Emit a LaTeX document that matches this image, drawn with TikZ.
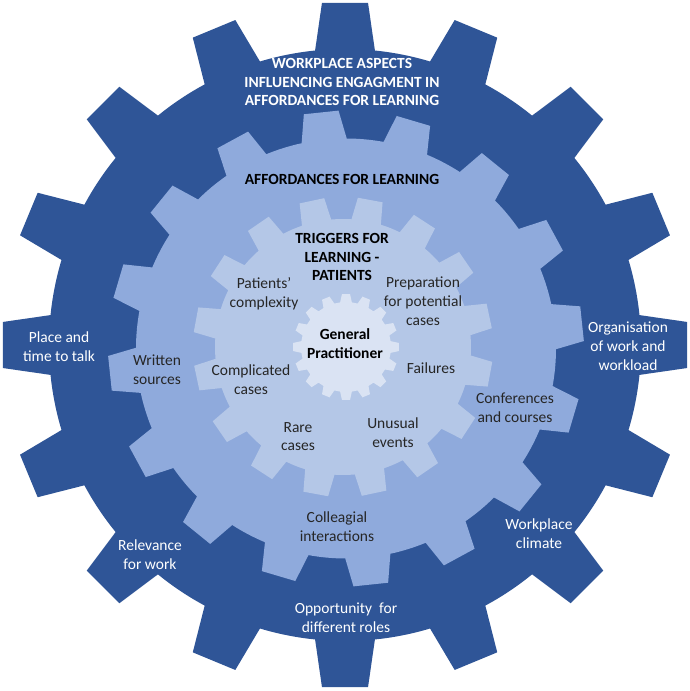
\documentclass[tikz,border=0pt]{standalone}
\usepackage{fontspec}
\setmainfont{Carlito}
\definecolor{gdark}{HTML}{2F5597}
\definecolor{gmid}{HTML}{8FAADC}
\definecolor{glight}{HTML}{B4C7E7}
\definecolor{gpale}{HTML}{DAE3F3}
\definecolor{txtdark}{HTML}{262626}
% #1 colour, #2 cx, #3 cy, #4 root r, #5 tip R, #6 phase, #7 tip half-angle, #8 base half-angle
\newcommand\drawgear[8]{%
  \fill[#1, shift={(#2,#3)}] (#6-#8:#4)
  \foreach \k [evaluate=\k as \t using #6+22.5*\k] in {0,...,15}{
    -- (\t-#8:#4) -- (\t-#7:#5) -- (\t+#7:#5) -- (\t+#8:#4)
    arc[start angle=\t+#8, end angle=\t+22.5-#8, radius=#4]
  } -- cycle;}
\tikzset{
  lbl/.style={align=center, inner sep=0pt, font=\fontsize{15.5}{18.8}\selectfont},
  wlbl/.style={lbl, text=white},
  dlbl/.style={lbl, text=txtdark},
  btitle/.style={lbl, font=\fontsize{15.5}{18.8}\selectfont\bfseries},
}
\begin{document}
\begin{tikzpicture}[x=1pt,y=1pt]
\useasboundingbox (0,0) rectangle (690,691);
\drawgear{gdark}{345}{346}{296}{343}{0}{3.85}{5.8}
\drawgear{gmid}{346}{342.5}{210}{238}{6}{4.2}{6.2}
\drawgear{glight}{343}{344}{128}{150}{12}{4.8}{6.7}
\drawgear{gpale}{346}{344}{45}{53}{0}{4.4}{7.5}

% outer gear labels
\node[btitle, text=white] (t1) at (342,609) {WORKPLACE ASPECTS\\INFLUENCING ENGAGMENT IN\\AFFORDANCES FOR LEARNING};
\node[wlbl] (o1) at (59,344.5) {Place and\\time to talk};
\node[wlbl] (o2) at (628,345) {Organisation\\of work and\\workload};
\node[wlbl] (o3) at (539,157.5) {Workplace\\climate};
\node[wlbl] (o4) at (150,136.5) {Relevance\\for work};
\node[wlbl] (o5) at (346,73) {Opportunity~ for\\different roles};

% second gear labels
\node[btitle, text=black] (t2) at (342,512) {AFFORDANCES FOR LEARNING};
\node[dlbl] (m1) at (157,321.5) {Written\\sources};
\node[dlbl] (m2) at (515,283.5) {Conferences\\and courses};
\node[dlbl] (m3) at (337,164) {Colleagial\\interactions};

% third gear labels
\node[btitle, text=black] (t3) at (342,434) {TRIGGERS FOR\\LEARNING -\\PATIENTS};
\node[dlbl] (l1) at (264,397) {Patients’\\complexity};
\node[dlbl] (l2) at (423,390) {Preparation\\for potential\\cases};
\node[dlbl] (l3) at (251,311.5) {Complicated\\cases};
\node[dlbl] (l4) at (431,323) {Failures};
\node[dlbl] (l5) at (298,254.5) {Rare\\cases};
\node[dlbl] (l6) at (393,258) {Unusual\\events};

% centre gear label
\node[btitle, text=black] (c) at (345,347.5) {General\\Practitioner};
\end{tikzpicture}
\end{document}
